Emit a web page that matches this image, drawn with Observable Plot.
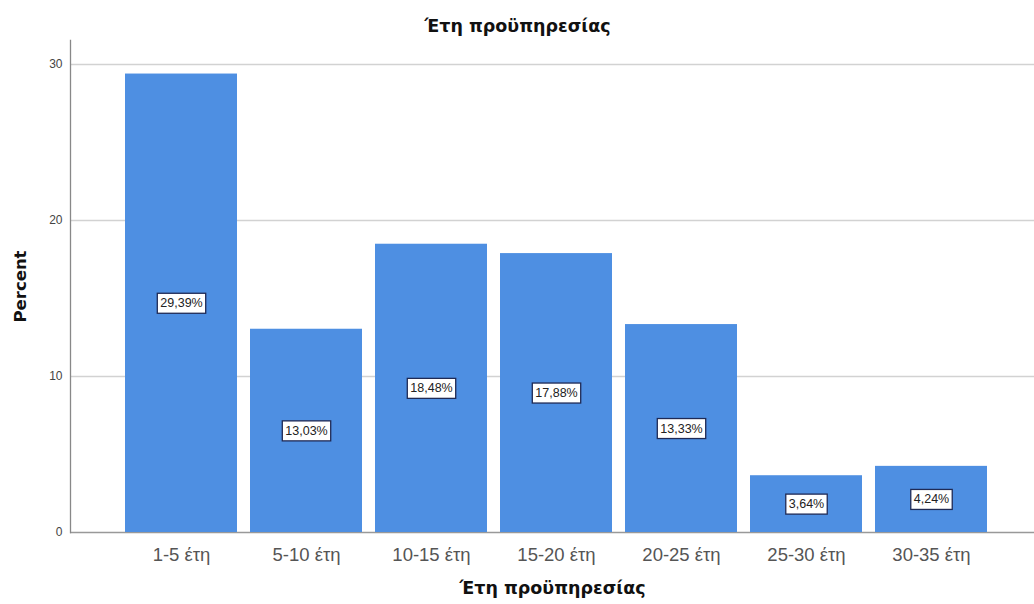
<!DOCTYPE html>
<html><head><meta charset="utf-8">
<script src="https://cdn.jsdelivr.net/npm/d3@7"></script>
<script src="https://cdn.jsdelivr.net/npm/@observablehq/plot@0.6"></script>
<style>
body{margin:0;background:#fff;}
#wrap{position:relative;width:1034px;height:604px;}
</style></head>
<body><div id="wrap"></div>
<script>
const categories = ["1-5 έτη","5-10 έτη","10-15 έτη","15-20 έτη","20-25 έτη","25-30 έτη","30-35 έτη"];
const percents = [29.39, 13.03, 18.48, 17.88, 13.33, 3.64, 4.24];
const yTicks = [0, 10, 20, 30];
const gridTicks = [10, 20, 30];
const title = "Έτη προϋπηρεσίας";
const xLabel = "Έτη προϋπηρεσίας";
const yLabel = "Percent";

const data = categories.map((c, i) => ({cat: c, value: percents[i]}));
const fmt = v => v.toFixed(2).replace(".", ",") + "%";

const chart = Plot.plot({
  width: 1034,
  height: 604,
  marginLeft: 70,
  marginRight: 0,
  marginTop: 40,
  marginBottom: 72,
  style: {fontFamily: "'Liberation Sans', Arial, sans-serif", background: "#fff"},
  x: {domain: categories, range: [118.5, 993.5], paddingInner: 0.104, paddingOuter: 0.052, label: null},
  y: {domain: [0, 31.54], label: null},
  marks: [
    Plot.ruleY(gridTicks, {stroke: "#d2d2d2", strokeWidth: 1.3}),
    Plot.ruleY([0], {stroke: "#999", strokeWidth: 1.3}),
    Plot.frame({anchor: "left", stroke: "#888", strokeWidth: 1.3}),
    Plot.barY(data, {x: "cat", y: "value", fill: "#4e8fe2"}),
    Plot.axisY({ticks: yTicks, tickSize: 0, tickPadding: 8, fontSize: 12, color: "#444", label: null}),
    Plot.axisX({tickSize: 0, tickPadding: 15, fontSize: 18.5, color: "#555", label: null}),
    Plot.text(data, {x: "cat", y: d => d.value / 2, text: d => fmt(d.value), fontSize: 12.5, fill: "#222", className: "vlab"}),
    Plot.text([title], {frameAnchor: "top", dx: -35, dy: -21, fontSize: 17.5, fontWeight: "bold", fill: "#111", fontFamily: "'DejaVu Sans', sans-serif"}),
    Plot.text([xLabel], {frameAnchor: "bottom", dy: 61, fontSize: 17.5, fontWeight: "bold", fill: "#111", fontFamily: "'DejaVu Sans', sans-serif"}),
    Plot.text([yLabel], {frameAnchor: "left", textAnchor: "middle", dx: -50, rotate: -90, fontSize: 16.5, fontWeight: "bold", fill: "#111", fontFamily: "'DejaVu Sans', sans-serif"})
  ]
});
document.getElementById("wrap").append(chart);

d3.select(chart).selectAll("g.vlab text").each(function() {
  const b = this.getBBox();
  const padX = 3, padY = 3;
  const r = document.createElementNS("http://www.w3.org/2000/svg", "rect");
  r.setAttribute("x", b.x - padX);
  r.setAttribute("y", b.y - padY);
  r.setAttribute("width", b.width + 2 * padX);
  r.setAttribute("height", b.height + 2 * padY);
  r.setAttribute("fill", "#fff");
  r.setAttribute("stroke", "#1f2a55");
  r.setAttribute("stroke-width", "1.3");
  const t = this.getAttribute("transform");
  if (t) r.setAttribute("transform", t);
  this.parentNode.insertBefore(r, this);
});
</script>
</body></html>
